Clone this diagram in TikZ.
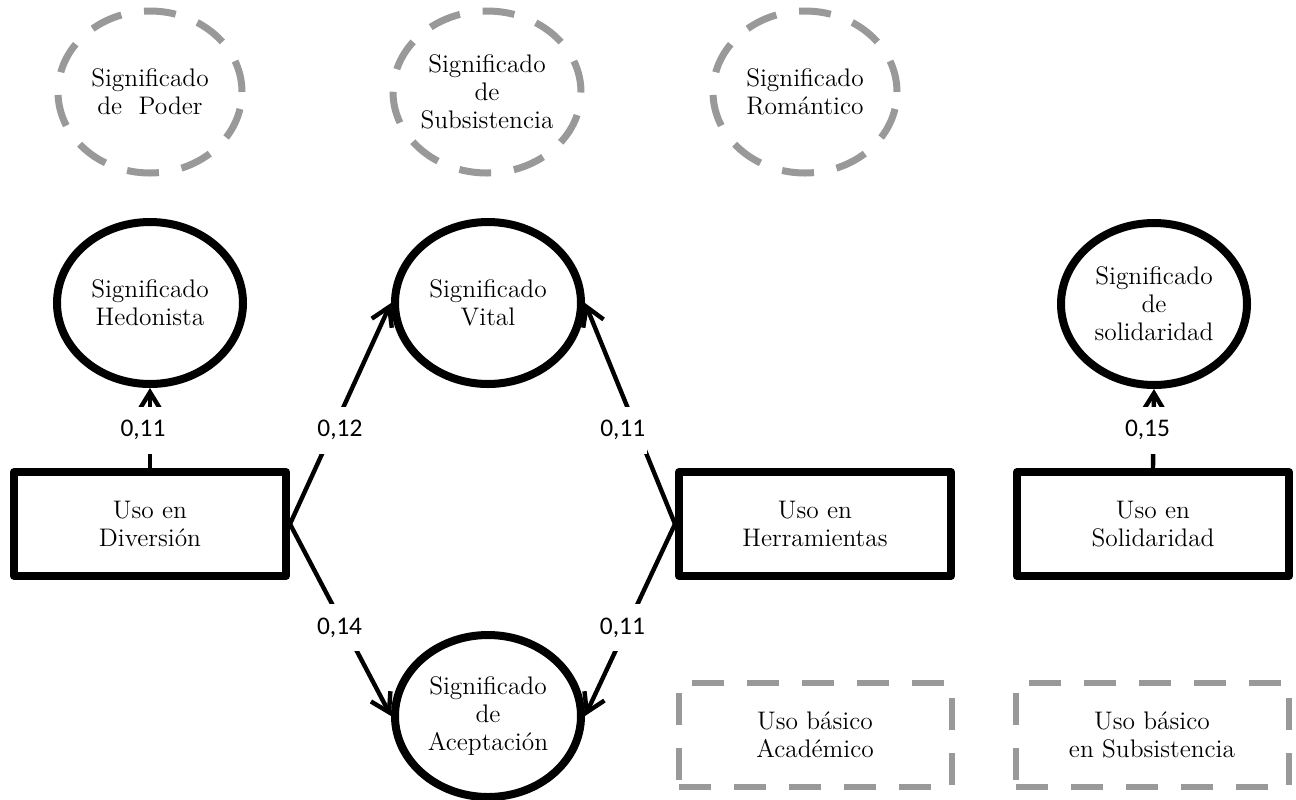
\documentclass[tikz,border=0pt]{standalone}
\usepackage{fontspec}
\newfontfamily\numfont{Carlito}
\usetikzlibrary{shapes.geometric,arrows.meta}
\definecolor{dashgray}{RGB}{153,153,153}

\begin{document}
\begin{tikzpicture}[x=0.5pt,y=-0.5pt,
  font=\fontsize{12.7}{14}\selectfont,
  latent/.style={ellipse,draw,line width=4pt,minimum width=93pt,minimum height=81pt,inner sep=0pt,align=center},
  ghost/.style={ellipse,draw=dashgray,line width=3.5pt,dash pattern=on 16pt off 11.5pt,minimum width=92pt,minimum height=81pt,inner sep=0pt,align=center},
  usebox/.style={rectangle,draw,line width=4pt,line join=round,minimum width=136pt,minimum height=52pt,align=center},
  ghostbox/.style={rectangle,draw=dashgray,line width=3pt,dash pattern=on 16pt off 11.5pt,minimum width=136.5pt,minimum height=52pt,align=center},
  link/.style={line width=2.2pt,-{Straight Barb[length=9pt,width=11pt]}},
  coef/.style={fill=white,font=\numfont\fontsize{12.7}{14}\selectfont,inner xsep=1pt,inner ysep=7pt,text height=8pt,text depth=1.5pt}]
\useasboundingbox (0,0) rectangle (1296,799);
% meanings not reached
\node[ghost] (poder) at (150,92) {Significado\\de\ \ Poder};
\node[ghost] (subs) at (487,92) {Significado\\de\\Subsistencia};
\node[ghost] (roman) at (805,92) {Significado\\Romántico};
% meanings
\node[latent] (hedon) at (150,303) {Significado\\Hedonista};
\node[latent] (vital) at (488,303) {Significado\\Vital};
\node[latent] (solsig) at (1154,304) {Significado\\de\\solidaridad};
\node[latent] (acept) at (488,716) {Significado\\de\\Aceptación};
% uses
\node[usebox] (div) at (150,524) {Uso en\\Diversión};
\node[usebox] (herr) at (815,524) {Uso en\\Herramientas};
\node[usebox] (solid) at (1153,524) {Uso en\\Solidaridad};
\node[ghostbox] (acad) at (815,735) {Uso básico\\Académico};
\node[ghostbox] (basub) at (1152,735) {Uso básico\\en Subsistencia};
% paths
\draw[link] (div.north) -- node[coef,pos=0.475,xshift=-3.5pt] {0,11} (hedon.south);
\draw[link] (div.east) -- node[coef,pos=0.425,xshift=3.5pt] {0,12} (vital.west);
\draw[link] (div.east) -- node[coef,pos=0.54,xshift=-2.5pt] {0,14} (acept.west);
\draw[link] (herr.west) -- node[coef,pos=0.425,xshift=-7pt] {0,11} (vital.east);
\draw[link] (herr.west) -- node[coef,pos=0.54,xshift=-2pt] {0,11} (acept.east);
\draw[link] (solid.north) -- node[coef,pos=0.475,xshift=-3pt] {0,15} (solsig.south);
\end{tikzpicture}
\end{document}
